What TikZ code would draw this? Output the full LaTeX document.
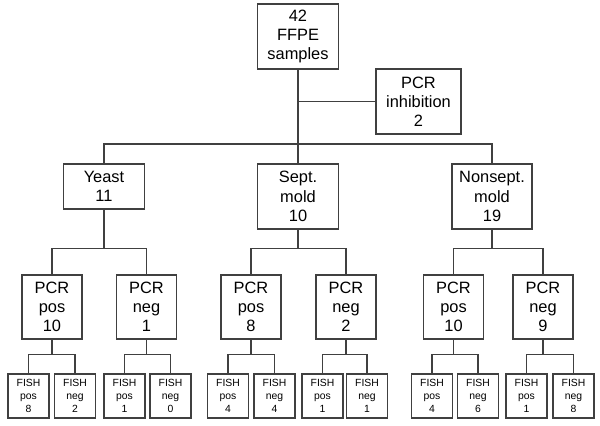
\documentclass[tikz,border=0pt]{standalone}
\usepackage{fontspec}
\setmainfont{Liberation Sans}
\begin{document}
\begin{tikzpicture}[x=0.5pt,y=-0.5pt,
  box/.style={draw=black!75,line width=0.6pt,align=center,inner sep=0pt,
    font=\fontsize{8.2}{9.6}\selectfont},
  bigbox/.style={box,minimum width=40.5pt,minimum height=32.5pt},
  midbox/.style={box,minimum width=30pt,minimum height=32pt},
  fishbox/.style={box,minimum width=20.5pt,minimum height=22pt,
    font=\fontsize{5.2}{6.4}\selectfont},
  conn/.style={draw=black!75,line width=0.6pt}]
\useasboundingbox (0,0) rectangle (600,426);
% level 0
\node[bigbox] (top) at (298,36.5) {42\\FFPE\\samples};
\node[box,minimum width=42.5pt,minimum height=32.5pt] (inhib) at (418.5,101.5) {PCR\\inhibition\\2};
% level 1
\node[box,minimum width=40.5pt,minimum height=22.5pt] (yeast) at (104,186.5) {Yeast\\11};
\node[bigbox] (sept) at (298,196.5) {Sept.\\mold\\10};
\node[bigbox,minimum width=40pt] (nons) at (492,196.5) {Nonsept.\\mold\\19};
% level 2
\node[midbox] (ypos) at (52,307) {PCR\\pos\\10};
\node[midbox] (yneg) at (146.5,307) {PCR\\neg\\1};
\node[midbox] (spos) at (251,307) {PCR\\pos\\8};
\node[midbox] (sneg) at (346,307) {PCR\\neg\\2};
\node[midbox] (npos) at (453.5,307) {PCR\\pos\\10};
\node[midbox] (nneg) at (543,307) {PCR\\neg\\9};
% level 3
\node[fishbox] (f1) at (28.5,396) {FISH\\pos\\8};
\node[fishbox] (f2) at (75,396) {FISH\\neg\\2};
\node[fishbox] (f3) at (124.5,396) {FISH\\pos\\1};
\node[fishbox] (f4) at (170.5,396) {FISH\\neg\\0};
\node[fishbox] (f5) at (228,396) {FISH\\pos\\4};
\node[fishbox] (f6) at (274.5,396) {FISH\\neg\\4};
\node[fishbox] (f7) at (322.5,396) {FISH\\pos\\1};
\node[fishbox] (f8) at (367,396) {FISH\\neg\\1};
\node[fishbox] (f9) at (432,396) {FISH\\pos\\4};
\node[fishbox] (f10) at (478,396) {FISH\\neg\\6};
\node[fishbox] (f11) at (526.5,396) {FISH\\pos\\1};
\node[fishbox] (f12) at (573.5,396) {FISH\\neg\\8};
% connectors
\coordinate (mainbar) at (0,144);
\draw[conn] (top.south) -- (sept.north);
\draw[conn] (top.south |- inhib.west) -- (inhib.west);
\draw[conn] (yeast.north) -- (yeast.north |- mainbar) -- (nons.north |- mainbar) -- (nons.north);
% level 1 -> 2
\foreach \p/\a/\b in {yeast/ypos/yneg, sept/spos/sneg, nons/npos/nneg}{
  \draw[conn] (\a.north) -- ++(0,-26) -| (\b.north);
  \draw[conn] (\p.south) -- (\p.south |- 0,249);
}
% level 2 -> 3
\foreach \p/\a/\b in {ypos/f1/f2, yneg/f3/f4, spos/f5/f6, sneg/f7/f8, npos/f9/f10, nneg/f11/f12}{
  \draw[conn] (\a.north) -- ++(0,-19) -| (\b.north);
  \draw[conn] (\p.south) -- (\p.south |- 0,355);
}
\end{tikzpicture}
\end{document}
